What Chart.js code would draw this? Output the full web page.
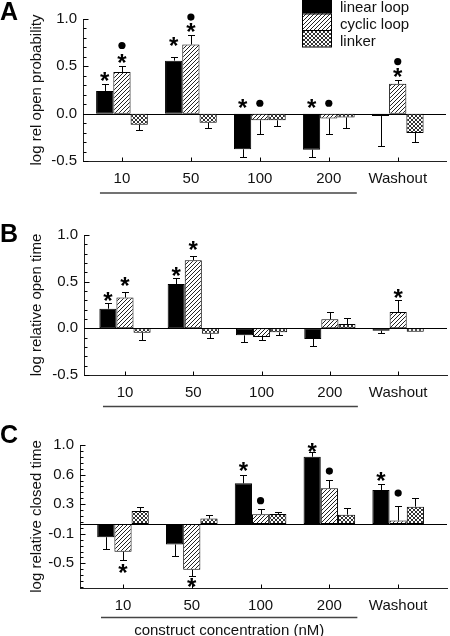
<!DOCTYPE html>
<html>
<head>
<meta charset="utf-8">
<script src="https://cdn.jsdelivr.net/npm/chart.js@4.4.0/dist/chart.umd.min.js"></script>
<style>
  body { margin: 0; background: #fff; }
  .panel { position: absolute; left: 0; width: 450px; }
</style>
</head>
<body>
<div class="panel" style="top:0"><canvas id="chartA" width="450" height="210"></canvas></div>
<div class="panel" style="top:210px"><canvas id="chartB" width="450" height="210"></canvas></div>
<div class="panel" style="top:420px"><canvas id="chartC" width="450" height="216"></canvas></div>
<script>
// categories and series
const categories = ['10', '50', '100', '200', 'Washout'];
const seriesNames = ['linear loop', 'cyclic loop', 'linker'];

// A: log rel open probability (bar value, end of error bar)
const aLinear = [0.24, 0.56, -0.376, -0.38, -0.025];
const aLinearErr = [0.31, 0.60, -0.46, -0.46, -0.34];
const aCyclic = [0.44, 0.73, -0.07, -0.05, 0.315];
const aCyclicErr = [0.50, 0.83, -0.22, -0.22, 0.36];
const aLinker = [-0.116, -0.095, -0.07, -0.04, -0.204];
const aLinkerErr = [-0.17, -0.15, -0.13, -0.15, -0.30];
const aTicks = [-0.5, 0, 0.5, 1.0];
const aTickLabels = ['-0.5', '0.0', '0.5', '1.0'];
// [category, series, symbol, y]
const aMarks = [
  [0, 0, '*', 0.40], [0, 1, '*', 0.60], [0, 1, 'dot', 0.72],
  [1, 0, '*', 0.77], [1, 1, '*', 0.92], [1, 1, 'dot', 1.02],
  [2, 0, '*', 0.12], [2, 1, 'dot', 0.11],
  [3, 0, '*', 0.12], [3, 1, 'dot', 0.11],
  [4, 1, '*', 0.445], [4, 1, 'dot', 0.55]
];

// B: log relative open time
const bLinear = [0.21, 0.475, -0.075, -0.114, -0.025];
const bLinearErr = [0.27, 0.54, -0.15, -0.19, -0.05];
const bCyclic = [0.33, 0.73, -0.093, 0.096, 0.175];
const bCyclicErr = [0.39, 0.78, -0.13, 0.175, 0.30];
const bLinker = [-0.046, -0.057, -0.043, 0.046, -0.036];
const bLinkerErr = [-0.12, -0.107, -0.075, 0.114, -0.036];
const bTicks = [-0.5, 0, 0.5, 1.0];
const bTickLabels = ['-0.5', '0.0', '0.5', '1.0'];
const bMarks = [
  [0, 0, '*', 0.35], [0, 1, '*', 0.51],
  [1, 0, '*', 0.62], [1, 1, '*', 0.90],
  [4, 1, '*', 0.39]
];

// C: log relative closed time (tick labels as printed in the figure)
const cLinear = [-0.135, -0.209, 0.411, 0.681, 0.344];
const cLinearErr = [-0.25, -0.327, 0.499, 0.731, 0.40];
const cCyclic = [-0.283, -0.465, 0.098, 0.361, 0.034];
const cCyclicErr = [-0.364, -0.526, 0.148, 0.445, 0.182];
const cLinker = [0.131, 0.054, 0.101, 0.094, 0.175];
const cLinkerErr = [0.169, 0.094, 0.121, 0.158, 0.26];
const cTicks = [-0.4, -0.1, 0.2, 0.5, 0.8];
const cTickLabels = ['-0.5', '-0.1', '0.3', '0.6', '1.0'];
const cMarks = [
  [0, 1, '*', -0.445], [1, 1, '*', -0.587],
  [2, 0, '*', 0.59], [2, 1, 'dot', 0.235],
  [3, 0, '*', 0.79], [3, 1, 'dot', 0.536],
  [4, 0, '*', 0.49], [4, 1, 'dot', 0.313]
];

Chart.defaults.font.family = "'Liberation Sans', Arial, sans-serif";
Chart.defaults.font.size = 15;
Chart.defaults.color = '#111';

function makePattern(cross) {
  const c = document.createElement('canvas');
  c.width = 4; c.height = 4;
  const g = c.getContext('2d');
  g.fillStyle = '#fff';
  g.fillRect(0, 0, 4, 4);
  g.strokeStyle = cross ? '#333' : '#222';
  g.lineWidth = 1;
  g.beginPath();
  g.moveTo(0, 4); g.lineTo(4, 0);
  g.moveTo(-1, 1); g.lineTo(1, -1);
  g.moveTo(3, 5); g.lineTo(5, 3);
  if (cross) {
    g.moveTo(0, 0); g.lineTo(4, 4);
    g.moveTo(-1, 3); g.lineTo(1, 5);
    g.moveTo(3, -1); g.lineTo(5, 1);
  }
  g.stroke();
  return g.createPattern(c, 'repeat');
}
const fills = ['#000', makePattern(false), makePattern(true)];

const decor = {
  id: 'decor',
  beforeDatasetsDraw(chart) {
    const { ctx, chartArea: a, scales: { y } } = chart;
    const yz = Math.round(y.getPixelForValue(0)) + 0.5;
    ctx.save();
    ctx.strokeStyle = '#000';
    ctx.lineWidth = 1;
    ctx.beginPath();
    ctx.moveTo(a.left, yz);
    ctx.lineTo(a.right, yz);
    ctx.stroke();
    ctx.restore();
  },
  afterDraw(chart, args, o) {
    const { ctx, chartArea: a, scales: { x, y } } = chart;
    ctx.save();
    ctx.strokeStyle = '#000';
    ctx.fillStyle = '#000';
    ctx.lineWidth = 1;

    // error bars
    chart.data.datasets.forEach((ds, di) => {
      chart.getDatasetMeta(di).data.forEach((bar, i) => {
        const ye = y.getPixelForValue(ds.errEnd[i]);
        if (Math.abs(ye - bar.y) < 1) return;
        const xc = Math.round(bar.x) + 0.5;
        const yc = Math.round(ye) + 0.5;
        ctx.beginPath();
        ctx.moveTo(xc, bar.y);
        ctx.lineTo(xc, yc);
        ctx.moveTo(xc - 3.5, yc);
        ctx.lineTo(xc + 3.5, yc);
        ctx.stroke();
      });
    });

    // inward ticks on the y axis
    const lx = Math.round(a.left) + 0.5;
    ctx.beginPath();
    y.ticks.forEach(t => {
      const p = Math.round(y.getPixelForValue(t.value)) + 0.5;
      ctx.moveTo(lx, p); ctx.lineTo(lx + 5, p);
    });
    const base = y.ticks[0].value;
    for (let k = -40; k <= 40; k++) {
      const v = base + k * o.minorStep;
      if (v < y.min - 1e-6 || v > y.max + 1e-6) continue;
      const p = Math.round(y.getPixelForValue(v)) + 0.5;
      ctx.moveTo(lx, p); ctx.lineTo(lx + 3, p);
    }
    // small upward ticks at categories
    const by = Math.round(a.bottom) + 0.5;
    categories.forEach((c, i) => {
      const p = Math.round(x.getPixelForValue(i)) + 0.5;
      ctx.moveTo(p, by); ctx.lineTo(p, by - 4);
    });
    ctx.stroke();

    // significance marks
    o.marks.forEach(([c, s, sym, v]) => {
      const px = chart.getDatasetMeta(s).data[c].x;
      const py = y.getPixelForValue(v);
      if (sym === 'dot') {
        ctx.beginPath();
        ctx.arc(px, py, 3.6, 0, Math.PI * 2);
        ctx.fill();
      } else {
        ctx.font = "bold 24px 'Liberation Sans', Arial";
        ctx.textAlign = 'center';
        ctx.textBaseline = 'alphabetic';
        ctx.fillText('*', px, py + 0.57 * 24);
      }
    });

    // line under the concentration labels
    ctx.strokeStyle = '#444';
    ctx.lineWidth = 1.5;
    const u0 = x.getPixelForValue(0) - 22;
    const u1 = x.getPixelForValue(3) + 28;
    ctx.beginPath();
    ctx.moveTo(u0, o.underlineY);
    ctx.lineTo(u1, o.underlineY);
    ctx.stroke();

    if (o.xTitle) {
      ctx.font = "15px 'Liberation Sans', Arial";
      ctx.fillStyle = '#111';
      ctx.textAlign = 'center';
      ctx.textBaseline = 'middle';
      ctx.fillText(o.xTitle, (u0 + u1) / 2, o.xTitleY);
    }

    // panel letter
    ctx.fillStyle = '#000';
    ctx.font = "bold 25px 'Liberation Sans', Arial";
    ctx.textAlign = 'left';
    ctx.textBaseline = 'alphabetic';
    ctx.fillText(o.letter, 0, o.letterY);

    // legend
    if (o.legend) {
      const rowH = 16.5;
      chart.data.datasets.forEach((ds, i) => {
        const top = -3 + i * rowH;
        ctx.fillStyle = ds.backgroundColor;
        ctx.fillRect(302, top, 30, rowH);
        ctx.strokeStyle = '#000';
        ctx.lineWidth = 1;
        ctx.strokeRect(302.5, top + 0.5, 29, rowH);
        ctx.fillStyle = '#111';
        ctx.font = "15px 'Liberation Sans', Arial";
        ctx.textBaseline = 'middle';
        ctx.fillText(ds.label, 340, 8 + i * 17);
      });
    }
    ctx.restore();
  }
};
Chart.register(decor);

function makePanel(id, p) {
  const datasets = p.values.map((vals, s) => ({
    label: seriesNames[s],
    data: vals.map((v, i) => ({ x: i, y: v })),
    errEnd: p.errs[s],
    backgroundColor: fills[s],
    borderColor: '#000',
    borderWidth: 1,
    borderSkipped: false,
    categoryPercentage: 0.75,
    barPercentage: 1.0
  }));
  return new Chart(document.getElementById(id), {
    type: 'bar',
    data: { datasets },
    options: {
      responsive: false,
      animation: false,
      layout: { padding: { top: p.top, right: 450 - p.right, left: 0, bottom: 0 } },
      plugins: {
        legend: { display: false },
        tooltip: { enabled: false },
        decor: {
          marks: p.marks, minorStep: p.minorStep, letter: p.letter, letterY: p.letterY,
          underlineY: p.underlineY, xTitle: p.xTitle, xTitleY: p.xTitleY, legend: p.legend
        }
      },
      scales: {
        x: {
          type: 'linear',
          min: p.xMin, max: p.xMax,
          offset: false,
          afterFit: s => { s.height = p.xAxisH; },
          afterBuildTicks: s => { s.ticks = categories.map((c, i) => ({ value: i })); },
          grid: { display: false, drawTicks: false },
          border: { display: true, color: '#222', width: 1 },
          ticks: { padding: 9, autoSkip: false, maxRotation: 0, callback: v => categories[v] }
        },
        y: {
          min: p.yMin, max: p.yMax,
          afterFit: s => { s.width = p.left; },
          afterBuildTicks: s => { s.ticks = p.ticks.map(v => ({ value: v })); },
          grid: { display: false, drawTicks: false },
          border: { display: true, color: '#222', width: 1 },
          ticks: { padding: 6, callback: (v, i) => p.tickLabels[i] },
          title: { display: true, text: p.yTitle, padding: { top: 28, bottom: 0 } }
        }
      }
    }
  });
}

makePanel('chartA', {
  values: [aLinear, aCyclic, aLinker], errs: [aLinearErr, aCyclicErr, aLinkerErr],
  ticks: aTicks, tickLabels: aTickLabels, marks: aMarks,
  yMin: -0.5, yMax: 1.0, minorStep: 0.1, top: 19, left: 83, right: 446, xAxisH: 49,
  xMin: -0.565, xMax: 4.70, yTitle: 'log rel open probability',
  letter: 'A', letterY: 20, underlineY: 193, legend: true
});
makePanel('chartB', {
  values: [bLinear, bCyclic, bLinker], errs: [bLinearErr, bCyclicErr, bLinkerErr],
  ticks: bTicks, tickLabels: bTickLabels, marks: bMarks,
  yMin: -0.5, yMax: 1.0, minorStep: 0.1, top: 25, left: 84, right: 447, xAxisH: 45,
  xMin: -0.6, xMax: 4.715, yTitle: 'log relative open time',
  letter: 'B', letterY: 32, underlineY: 196.5
});
makePanel('chartC', {
  values: [cLinear, cCyclic, cLinker], errs: [cLinearErr, cCyclicErr, cLinkerErr],
  ticks: cTicks, tickLabels: cTickLabels, marks: cMarks,
  yMin: -0.65, yMax: 0.8, minorStep: 0.06, top: 25, left: 80, right: 447, xAxisH: 48,
  xMin: -0.625, xMax: 4.71, yTitle: 'log relative closed time',
  letter: 'C', letterY: 23, underlineY: 197.5,
  xTitle: 'construct concentration (nM)', xTitleY: 211
});
</script>
</body>
</html>
